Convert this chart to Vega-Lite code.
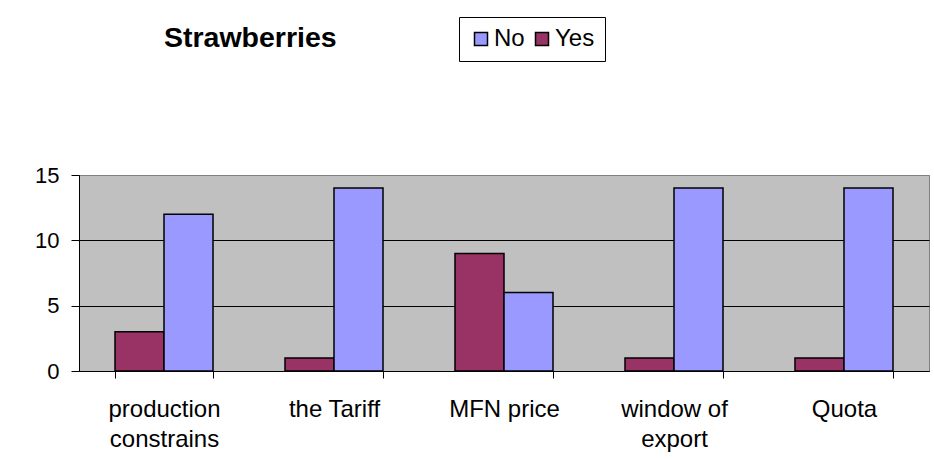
{
  "$schema": "https://vega.github.io/schema/vega-lite/v6.json",
  "autosize": {"type": "none"},
  "width": 850,
  "height": 196,
  "padding": {"left": 79, "top": 175, "right": 5, "bottom": 88},
  "background": "white",
  "config": {
    "font": "Arial, Liberation Sans",
    "view": {"fill": "#C0C0C0", "stroke": "#808080", "strokeWidth": 1}
  },
  "title": {
    "text": "Strawberries",
    "anchor": "start",
    "frame": "group",
    "dx": 85,
    "offset": 0,
    "dy": 59,
    "baseline": "alphabetic",
    "fontSize": 28.5,
    "fontWeight": "bold",
    "font": "Arial, Liberation Sans",
    "color": "black"
  },
  "data": {
    "values": [
      {"issue": "production constrains", "answer": "Yes", "count": 3},
      {"issue": "production constrains", "answer": "No", "count": 12},
      {"issue": "the Tariff", "answer": "Yes", "count": 1},
      {"issue": "the Tariff", "answer": "No", "count": 14},
      {"issue": "MFN price", "answer": "Yes", "count": 9},
      {"issue": "MFN price", "answer": "No", "count": 6},
      {"issue": "window of export", "answer": "Yes", "count": 1},
      {"issue": "window of export", "answer": "No", "count": 14},
      {"issue": "Quota", "answer": "Yes", "count": 1},
      {"issue": "Quota", "answer": "No", "count": 14}
    ]
  },
  "mark": {"type": "bar", "stroke": "black", "strokeWidth": 1.5},
  "encoding": {
    "x": {
      "field": "issue",
      "type": "nominal",
      "sort": ["production constrains", "the Tariff", "MFN price", "window of export", "Quota"],
      "scale": {"paddingInner": 0.4235, "paddingOuter": 0.2118},
      "axis": {
        "title": null,
        "labelAngle": 0,
        "labelFontSize": 24,
        "labelColor": "black",
        "labelPadding": 19,
        "labelLineHeight": 30,
        "labelBaseline": "top",
        "tickBand": "extent",
        "tickSize": 7,
        "tickColor": "black",
        "domainColor": "black",
        "domainWidth": 1,
        "labelExpr": "datum.label == 'production constrains' ? ['production', 'constrains'] : datum.label == 'window of export' ? ['window of', 'export'] : datum.label"
      }
    },
    "xOffset": {
      "field": "answer",
      "type": "nominal",
      "sort": ["Yes", "No"]
    },
    "y": {
      "field": "count",
      "type": "quantitative",
      "scale": {"domain": [0, 15], "nice": false},
      "axis": {
        "title": null,
        "values": [0, 5, 10, 15],
        "labelFontSize": 22,
        "labelColor": "black",
        "labelPadding": 12,
        "tickSize": 8,
        "tickColor": "black",
        "domainColor": "black",
        "gridColor": {"condition": {"test": "datum.value == 15", "value": "#808080"}, "value": "black"},
        "gridOpacity": 1,
        "gridWidth": 1
      }
    },
    "color": {
      "field": "answer",
      "type": "nominal",
      "scale": {"domain": ["No", "Yes"], "range": ["#9999FF", "#993366"]},
      "legend": {
        "title": null,
        "orient": "none",
        "legendX": 380,
        "legendY": -158,
        "direction": "horizontal",
        "symbolType": "square",
        "symbolSize": 169,
        "symbolStrokeColor": "black",
        "symbolStrokeWidth": 1.5,
        "labelFontSize": 24,
        "labelColor": "black",
        "labelOffset": 1,
        "columnPadding": 5,
        "padding": 10,
        "strokeColor": "black",
        "fillColor": "white"
      }
    }
  }
}
